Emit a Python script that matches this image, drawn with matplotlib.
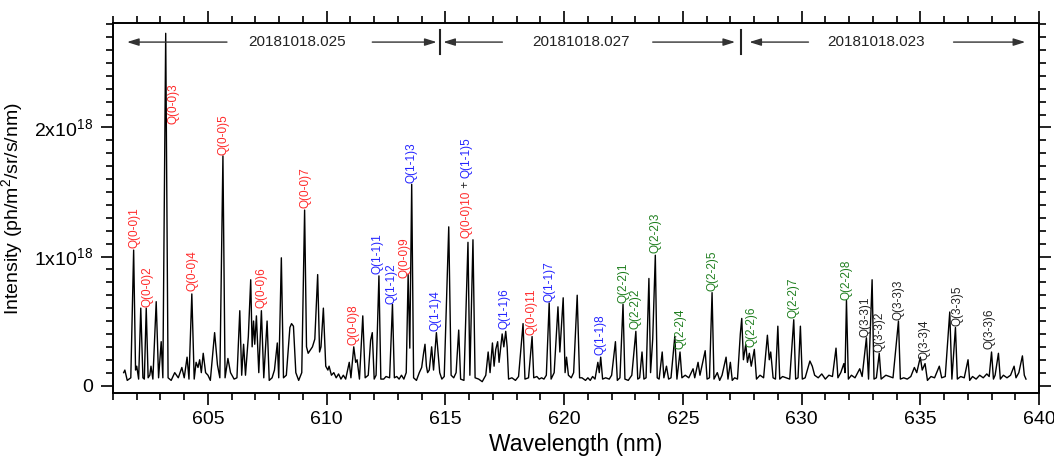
import matplotlib.pyplot as plt  # plotting
from matplotlib.ticker import MultipleLocator, FuncFormatter

# Spectrum trace: wavelength (nm) and intensity (units of 1e18 ph/m2/sr/s/nm)
wavelength = [
    601.45, 601.50, 601.60, 601.75, 601.87, 601.95, 602.00, 602.08, 602.17, 602.26,
    602.32, 602.40, 602.48, 602.55, 602.60, 602.68, 602.82, 602.92, 603.03, 603.10,
    603.22, 603.32, 603.45, 603.60, 603.75, 603.90, 604.00, 604.12, 604.20, 604.32,
    604.42, 604.50, 604.58, 604.65, 604.72, 604.80, 604.90, 605.00, 605.10, 605.28,
    605.40, 605.50, 605.63, 605.72, 605.84, 605.95, 606.10, 606.22, 606.34, 606.42,
    606.50, 606.58, 606.70, 606.80, 606.86, 606.92, 606.97, 607.04, 607.14, 607.25,
    607.35, 607.49, 607.58, 607.70, 607.80, 607.92, 607.98, 608.09, 608.18, 608.30,
    608.45, 608.52, 608.60, 608.70, 608.82, 608.95, 609.07, 609.15, 609.22, 609.40,
    609.50, 609.62, 609.70, 609.76, 609.86, 609.96, 610.05, 610.10, 610.20, 610.30,
    610.40, 610.50, 610.60, 610.70, 610.80, 610.95, 611.02, 611.14, 611.22, 611.28,
    611.38, 611.52, 611.62, 611.75, 611.85, 611.92, 612.00, 612.08, 612.20, 612.28,
    612.40, 612.50, 612.65, 612.77, 612.85, 612.95, 613.05, 613.15, 613.25, 613.35,
    613.43, 613.50, 613.58, 613.66, 613.78, 613.90, 614.00, 614.08, 614.14, 614.20,
    614.25, 614.32, 614.42, 614.50, 614.62, 614.68, 614.76, 614.85, 614.95, 615.14,
    615.24, 615.35, 615.45, 615.56, 615.64, 615.78, 615.95, 616.03, 616.16, 616.25,
    616.40, 616.55, 616.70, 616.80, 616.88, 616.98, 617.05, 617.12, 617.20, 617.26,
    617.39, 617.46, 617.54, 617.60, 617.66, 617.80, 617.95, 618.08, 618.27, 618.35,
    618.50, 618.65, 618.72, 618.85, 618.95, 619.05, 619.15, 619.25, 619.37, 619.45,
    619.58, 619.74, 619.82, 619.96, 620.04, 620.10, 620.18, 620.30, 620.40, 620.55,
    620.65, 620.75, 620.90, 621.00, 621.10, 621.20, 621.30, 621.42, 621.48, 621.54,
    621.62, 621.75, 621.90, 622.00, 622.16, 622.24, 622.35, 622.48, 622.56, 622.70,
    622.85, 623.02, 623.10, 623.18, 623.28, 623.36, 623.45, 623.57, 623.64, 623.73,
    623.84, 623.92, 624.00, 624.13, 624.20, 624.31, 624.40, 624.50, 624.66, 624.75,
    624.88, 624.96, 625.10, 625.25, 625.43, 625.50, 625.64, 625.72, 625.94, 626.02,
    626.12, 626.23, 626.31, 626.45, 626.55, 626.65, 626.82, 626.90, 627.00, 627.08,
    627.18, 627.30, 627.42, 627.48, 627.55, 627.65, 627.72, 627.80, 627.88, 628.01,
    628.10, 628.25, 628.40, 628.56, 628.64, 628.70, 628.80, 628.90, 629.00, 629.08,
    629.20, 629.35, 629.50, 629.67, 629.75, 629.85, 629.95, 630.03, 630.15, 630.35,
    630.45, 630.55, 630.70, 630.85, 631.00, 631.15, 631.30, 631.45, 631.53, 631.65,
    631.78, 631.83, 631.89, 631.97, 632.10, 632.25, 632.45, 632.55, 632.73, 632.82,
    632.97, 633.05, 633.15, 633.27, 633.35, 633.55, 633.70, 633.85, 634.08, 634.16,
    634.30, 634.45, 634.60, 634.75, 634.85, 635.00, 635.08, 635.20, 635.30, 635.45,
    635.60, 635.80, 635.90, 636.05, 636.24, 636.33, 636.48, 636.56, 636.70, 636.85,
    637.01, 637.08, 637.20, 637.35, 637.50, 637.65, 637.80, 637.90, 638.00, 638.08,
    638.15, 638.29, 638.37, 638.50, 638.65, 638.80, 638.95, 639.03, 639.15, 639.30,
    639.38, 639.45,
]
intensity_e18 = [
    0.10, 0.12, 0.04, 0.06, 1.05, 0.12, 0.15, 0.05, 0.60, 0.06,
    0.05, 0.60, 0.06, 0.08, 0.15, 0.05, 0.65, 0.06, 0.34, 0.06,
    2.73, 0.06, 0.04, 0.10, 0.06, 0.14, 0.06, 0.22, 0.05, 0.71,
    0.05, 0.18, 0.14, 0.20, 0.10, 0.25, 0.10, 0.08, 0.04, 0.41,
    0.16, 0.06, 1.78, 0.06, 0.21, 0.10, 0.05, 0.06, 0.58, 0.08,
    0.32, 0.08, 0.38, 0.82, 0.30, 0.50, 0.32, 0.54, 0.10, 0.58,
    0.06, 0.50, 0.04, 0.06, 0.12, 0.33, 0.06, 0.99, 0.06, 0.08,
    0.45, 0.48, 0.46, 0.10, 0.04, 0.10, 1.36, 0.30, 0.25, 0.30,
    0.36, 0.86, 0.26, 0.30, 0.60, 0.15, 0.12, 0.15, 0.08, 0.10,
    0.06, 0.09, 0.05, 0.08, 0.05, 0.18, 0.06, 0.30, 0.18, 0.20,
    0.05, 0.54, 0.06, 0.08, 0.35, 0.41, 0.05, 0.08, 0.85, 0.05,
    0.05, 0.07, 0.06, 0.63, 0.06, 0.07, 0.05, 0.08, 0.05, 0.10,
    0.86, 0.29, 1.56, 0.06, 0.04, 0.10, 0.14, 0.25, 0.32, 0.15,
    0.10, 0.12, 0.30, 0.12, 0.41, 0.28, 0.10, 0.05, 0.07, 1.23,
    0.08, 0.06, 0.10, 0.43, 0.05, 0.04, 1.11, 0.08, 1.13, 0.06,
    0.05, 0.03, 0.08, 0.26, 0.10, 0.33, 0.15, 0.28, 0.34, 0.18,
    0.40, 0.30, 0.42, 0.30, 0.05, 0.06, 0.04, 0.07, 0.48, 0.05,
    0.06, 0.38, 0.06, 0.07, 0.05, 0.06, 0.05, 0.08, 0.64, 0.05,
    0.10, 0.61, 0.26, 0.68, 0.10, 0.22, 0.08, 0.06, 0.10, 0.70,
    0.06, 0.06, 0.04, 0.06, 0.04, 0.07, 0.05, 0.18, 0.10, 0.22,
    0.05, 0.06, 0.05, 0.08, 0.34, 0.04, 0.06, 0.63, 0.05, 0.04,
    0.08, 0.42, 0.05, 0.06, 0.26, 0.05, 0.06, 0.83, 0.10, 0.36,
    1.01, 0.06, 0.05, 0.26, 0.06, 0.15, 0.05, 0.06, 0.38, 0.05,
    0.26, 0.06, 0.08, 0.06, 0.13, 0.06, 0.18, 0.08, 0.27, 0.05,
    0.06, 0.72, 0.05, 0.10, 0.04, 0.08, 0.22, 0.05, 0.18, 0.04,
    0.06, 0.05, 0.40, 0.52, 0.20, 0.32, 0.18, 0.25, 0.15, 0.28,
    0.05, 0.08, 0.06, 0.39, 0.20, 0.26, 0.06, 0.05, 0.46, 0.05,
    0.07, 0.06, 0.05, 0.51, 0.05, 0.06, 0.46, 0.05, 0.06, 0.19,
    0.15, 0.08, 0.06, 0.09, 0.05, 0.08, 0.07, 0.29, 0.06, 0.10,
    0.17, 0.10, 0.66, 0.05, 0.08, 0.06, 0.13, 0.07, 0.37, 0.05,
    0.82, 0.05, 0.06, 0.25, 0.05, 0.08, 0.07, 0.06, 0.50, 0.05,
    0.06, 0.05, 0.07, 0.14, 0.10, 0.22, 0.12, 0.17, 0.04, 0.07,
    0.06, 0.15, 0.06, 0.07, 0.57, 0.05, 0.45, 0.05, 0.07, 0.06,
    0.20, 0.04, 0.07, 0.05, 0.08, 0.06, 0.09, 0.07, 0.26, 0.05,
    0.08, 0.25, 0.05, 0.08, 0.06, 0.08, 0.15, 0.06, 0.10, 0.23,
    0.08, 0.05,
]

# Line identifications: text, label x (nm), label bottom (1e18), band index for colour
line_names = [
    'Q(0-0)1', 'Q(0-0)2', 'Q(0-0)3', 'Q(0-0)4', 'Q(0-0)5', 'Q(0-0)6', 'Q(0-0)7',
    'Q(0-0)8', 'Q(1-1)1', 'Q(1-1)2', 'Q(0-0)9', 'Q(1-1)3', 'Q(1-1)4', 'Q(1-1)6',
    'Q(0-0)11', 'Q(1-1)7', 'Q(1-1)8', 'Q(2-2)1', 'Q(2-2)2', 'Q(2-2)3', 'Q(2-2)4',
    'Q(2-2)5', 'Q(2-2)6', 'Q(2-2)7', 'Q(2-2)8', 'Q(3-3)1', 'Q(3-3)2', 'Q(3-3)3',
    'Q(3-3)4', 'Q(3-3)5', 'Q(3-3)6',
]
line_x = [
    601.90, 602.47, 603.53, 604.33, 605.67, 607.25, 609.09,
    611.11, 612.16, 612.72, 613.26, 613.57, 614.59, 617.50,
    618.62, 619.37, 621.54, 622.48, 623.00, 623.84, 624.88,
    626.23, 627.89, 629.64, 631.89, 632.70, 633.27, 634.07,
    635.19, 636.55, 637.93,
]
line_y = [
    1.065, 0.61, 2.03, 0.73, 1.79, 0.60, 1.375,
    0.315, 0.866, 0.63, 0.83, 1.57, 0.42, 0.44,
    0.39, 0.65, 0.24, 0.64, 0.44, 1.03, 0.28,
    0.73, 0.30, 0.52, 0.66, 0.38, 0.26, 0.51,
    0.20, 0.46, 0.28,
]
line_band = [
    0, 0, 0, 0, 0, 0, 0,
    0, 1, 1, 0, 1, 1, 1,
    0, 1, 1, 2, 2, 2, 2,
    2, 2, 2, 2, 3, 3, 3,
    3, 3, 3,
]
band_colors = ['#ff2a2a', '#2424ff', '#1f7f1f', '#222222']

# Blended line Q(0-0)10 + Q(1-1)5
blend_x = 615.88
blend_y = 1.14

# Shot ranges at the top of the plot
shot_names = ['20181018.025', '20181018.027', '20181018.023']
shot_text_x = [608.77, 620.69, 633.12]
arrow_tail = [605.80, 611.92, 617.40, 623.73, 630.29, 636.40]
arrow_head = [601.59, 614.63, 614.91, 627.20, 627.80, 639.42]
shot_borders = [614.77, 627.44]
arrow_level = 2.662

plt.rcParams['font.family'] = ['Liberation Sans', 'DejaVu Sans']
plt.rcParams['mathtext.fontset'] = 'custom'
plt.rcParams['mathtext.rm'] = 'Liberation Sans'
plt.rcParams['mathtext.default'] = 'regular'

fig = plt.figure(figsize=(10.54, 4.58), dpi=100)
ax = fig.add_axes([0.1072, 0.1413, 0.8786, 0.8085])

# Spectrum
ax.plot(wavelength, intensity_e18, color='black', lw=1.0)

# Line labels, rotated, sitting on top of each peak
for name, x, y, band in zip(line_names, line_x, line_y, line_band):
    ax.text(x, y, name, rotation=90, ha='center', va='bottom',
            fontsize=8.5, color=band_colors[band])

t1 = ax.text(blend_x, blend_y, 'Q(0-0)10', rotation=90, ha='center', va='bottom',
             fontsize=8.5, color=band_colors[0])
t2 = ax.annotate(' + ', xy=(0.5, 1.0), xycoords=t1, rotation=90, ha='center', va='bottom',
                 fontsize=8.5, color='#222222')
ax.annotate('Q(1-1)5', xy=(0.5, 1.0), xycoords=t2, rotation=90, ha='center', va='bottom',
            fontsize=8.5, color=band_colors[1])

# Shot range arrows
for tail, head in zip(arrow_tail, arrow_head):
    ax.annotate('', xy=(head, arrow_level), xytext=(tail, arrow_level),
                arrowprops=dict(arrowstyle='-|>,head_length=0.7,head_width=0.22',
                                color='#333333', lw=1.0, shrinkA=0, shrinkB=0))
for name, x in zip(shot_names, shot_text_x):
    ax.text(x, arrow_level, name, ha='center', va='center', fontsize=11, color='#222222')
for x in shot_borders:
    ax.plot([x, x], [arrow_level - 0.09, arrow_level + 0.095], color='#222222', lw=1.5)

# Axes
ax.set_xlim(601, 640)
ax.set_ylim(-0.06, 2.81)
ax.xaxis.set_major_locator(MultipleLocator(5))
ax.xaxis.set_minor_locator(MultipleLocator(1))
ax.yaxis.set_major_locator(MultipleLocator(1))
ax.yaxis.set_minor_locator(MultipleLocator(0.1))


def fmt_y(v, pos):
    # Tick labels written as Nx10^18
    n = int(round(v))
    return '0' if n == 0 else f'{n}x10$^{{18}}$'


ax.yaxis.set_major_formatter(FuncFormatter(fmt_y))
ax.tick_params(which='both', direction='out', top=True, right=True, width=1.2, labelsize=14)
ax.tick_params(which='major', length=8.5)
ax.tick_params(which='minor', length=5)
ax.tick_params(axis='y', pad=6)
ax.tick_params(axis='x', pad=4)
for sp in ax.spines.values():
    sp.set_linewidth(1.4)

ax.set_xlabel('Wavelength (nm)', fontsize=16.5, labelpad=4)
ax.set_ylabel('Intensity (ph/m$^2$/sr/s/nm)', fontsize=14, labelpad=6)

fig.savefig('out.png', dpi=100)
